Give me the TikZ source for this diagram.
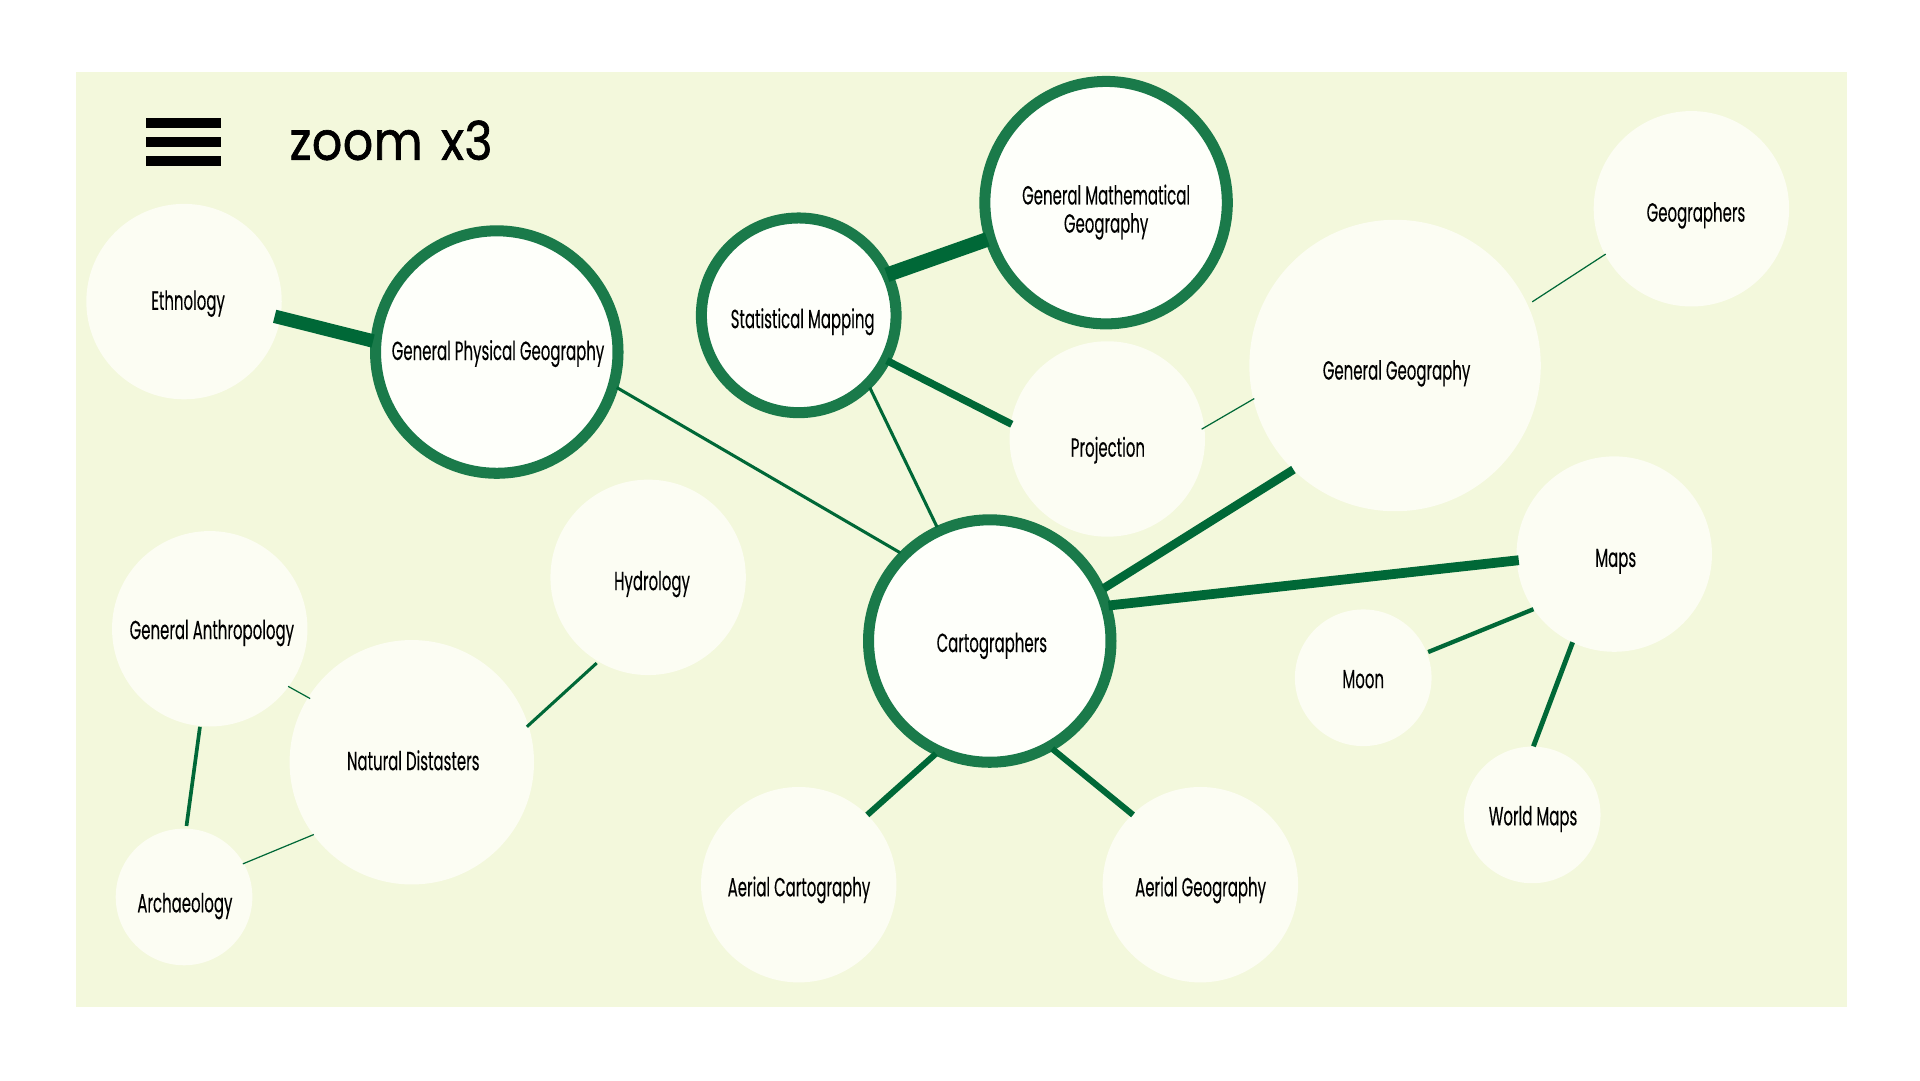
\documentclass[tikz,border=0pt]{standalone}
\usepackage{fontspec}
\setmainfont[FakeStretch=0.57,FakeBold=0.2]{Poppins}
\newfontfamily\titlefont[FakeStretch=0.89,FakeBold=1.2,LetterSpace=1,WordSpace=1.4]{Poppins}
\usetikzlibrary{calc}
\definecolor{panel}{HTML}{F3F8DC}
\definecolor{soft}{HTML}{FCFDF3}
\definecolor{hub}{HTML}{FEFFFA}
\definecolor{ring}{HTML}{1A7A4A}
\definecolor{wire}{HTML}{006837}
\newdimen\unitlen \unitlen=0.05cm
\newcommand\tagat[3]{\makebox[0pt][c]{\raisebox{-#2\unitlen}[0pt][0pt]{\hspace*{#1\unitlen}\hspace*{#1\unitlen}#3}}}
\tikzset{
  x=0.05cm,y=-0.05cm,
  softdisc/.style={circle,fill=soft,inner sep=0pt,minimum size=#1*0.1cm,font=\fontsize{30.5pt}{33pt}\selectfont},
  hubdisc/.style={circle,fill=hub,draw=ring,line width=0.45cm,inner sep=0pt,minimum size=#1*0.1cm,font=\fontsize{30.5pt}{33pt}\selectfont},
  wired/.style={draw=wire,line width=#1*0.05cm}
}
\begin{document}
\begin{tikzpicture}
\useasboundingbox (0,0) rectangle (1568,882);
\fill[white] (0,0) rectangle (1568,882);
\fill[panel] (62,58.6) rectangle (1508,822);
\fill (119,96.3) rectangle (180.5,104.5);
\fill (119,112) rectangle (180.5,120);
\fill (119,127.5) rectangle (180.5,135.5);
\node[anchor=base west,inner sep=0pt,font=\titlefont\fontsize{62pt}{70pt}\selectfont] (title) at (236.5,130.5) {zoom x3};
\node[softdisc=79.8] (eth) at (150.3,246.3) {\tagat{3.3}{6.7}{Ethnology}};
\node[hubdisc=99] (gpg) at (405.7,287.5) {\tagat{1}{6.5}{General Physical Geography}};
\node[hubdisc=79.5] (stat) at (652.3,257.5) {\tagat{3.2}{10.5}{Statistical Mapping}};
\node[hubdisc=99] (math) at (903.3,165.5) {\tagat{0}{1.5}{General Mathematical}\tagat{0}{24.5}{Geography}};
\node[softdisc=79.8] (proj) at (904.3,358.5) {\tagat{0.5}{14.5}{Projection}};
\node[softdisc=119] (gg) at (1139.3,298.5) {\tagat{1.2}{11.5}{General Geography}};
\node[softdisc=79.8] (geo) at (1381.3,170.5) {\tagat{3.7}{10.5}{Geographers}};
\node[softdisc=79.8] (maps) at (1318.3,452.5) {\tagat{1.2}{10.5}{Maps}};
\node[softdisc=55.8] (moon) at (1113.3,553.5) {\tagat{0}{8.5}{Moon}};
\node[softdisc=55.8] (world) at (1251.3,665.5) {\tagat{0.7}{8.5}{World Maps}};
\node[hubdisc=99] (cart) at (808.3,523.5) {\tagat{1.7}{9}{Cartographers}};
\node[softdisc=79.8] (ac) at (652.3,722.5) {\tagat{0.2}{9.5}{Aerial Cartography}};
\node[softdisc=79.8] (ag) at (980.3,722.5) {\tagat{0.2}{9.5}{Aerial Geography}};
\node[softdisc=79.8] (hyd) at (529.3,471.5) {\tagat{3.2}{10.5}{Hydrology}};
\node[softdisc=79.8] (ga) at (171.3,513.5) {\tagat{1.7}{8.5}{General Anthropology}};
\node[softdisc=99.8] (nd) at (336.3,622.5) {\tagat{1.2}{6.5}{Natural Distasters}};
\node[softdisc=55.8] (arch) at (150.3,732.5) {\tagat{0.7}{12.5}{Archaeology}};
\draw[wired=11] ($(eth)+(74,12)$) -- ($(gpg)+(-101,-9)$);
\draw[wired=2.5] ($(gpg)+(98,29)$) -- ($(cart)+(-73,-72)$);
\draw[wired=12] ($(stat)+(72,-33)$) -- ($(math)+(-97,30)$);
\draw[wired=6] ($(stat)+(72,37)$) -- ($(proj)+(-78,-12)$);
\draw[wired=2.5] ($(stat)+(58,59)$) -- ($(cart)+(-43,-93)$);
\draw[wired=1] ($(proj)+(77,-8)$) -- ($(gg)+(-115,27)$);
\draw[wired=1] ($(gg)+(112,-52)$) -- ($(geo)+(-70,37)$);
\draw[wired=7] ($(gg)+(-83,85)$) -- ($(cart)+(93,-43)$);
\draw[wired=8] ($(cart)+(97,-29)$) -- ($(maps)+(-78,5)$);
\draw[wired=3.5] ($(maps)+(-66,45)$) -- ($(moon)+(53,-21)$);
\draw[wired=4] ($(maps)+(-34,72)$) -- ($(world)+(1,-56)$);
\draw[wired=5] ($(cart)+(-44,92)$) -- ($(ac)+(56,-57)$);
\draw[wired=5] ($(cart)+(51,88)$) -- ($(ag)+(-55,-57)$);
\draw[wired=2.5] ($(hyd)+(-42,70)$) -- ($(nd)+(94,-29)$);
\draw[wired=1] ($(ga)+(64,47)$) -- ($(nd)+(-83,-52)$);
\draw[wired=3] ($(ga)+(-8,80)$) -- ($(arch)+(2,-58)$);
\draw[wired=1] ($(arch)+(48,-27)$) -- ($(nd)+(-80,59)$);
\end{tikzpicture}
\end{document}
